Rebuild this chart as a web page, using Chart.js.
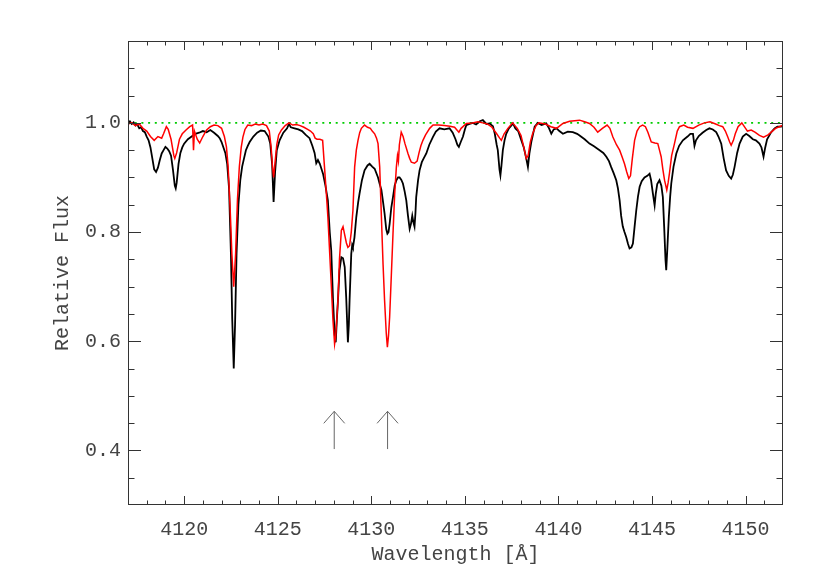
<!DOCTYPE html>
<html>
<head>
<meta charset="utf-8">
<script src="https://cdn.jsdelivr.net/npm/chart.js@4"></script>
<style>
  html, body { margin: 0; padding: 0; background: #fff; }
  #wrap { width: 822px; height: 587px; }
</style>
</head>
<body>
<div id="wrap"><canvas id="grafico"></canvas></div>
<script>
// observed spectrum (black)
const blackWave = [
  4117.0, 4117.1, 4117.2, 4117.3, 4117.4, 4117.5, 4117.6, 4117.7, 4117.8, 4117.9,
  4118.0, 4118.1, 4118.2, 4118.3, 4118.4, 4118.5, 4118.6, 4118.7, 4118.8, 4118.9,
  4119.0, 4119.1, 4119.2, 4119.3, 4119.4, 4119.5, 4119.55, 4119.6, 4119.7, 4119.8,
  4119.9, 4120.0, 4120.2, 4120.4, 4120.6, 4120.8, 4121.0, 4121.2, 4121.4, 4121.6,
  4121.8, 4121.9, 4122.0, 4122.1, 4122.2, 4122.3, 4122.4, 4122.5, 4122.57, 4122.65,
  4122.72, 4122.8, 4122.9, 4123.0, 4123.1, 4123.2, 4123.3, 4123.4, 4123.5, 4123.7,
  4123.9, 4124.1, 4124.3, 4124.5, 4124.6, 4124.7, 4124.78, 4124.86, 4124.95, 4125.1,
  4125.3, 4125.5, 4125.6, 4125.7, 4125.9, 4126.1, 4126.3, 4126.5, 4126.7, 4126.85,
  4126.97, 4127.06, 4127.15, 4127.25, 4127.42, 4127.55, 4127.68, 4127.78, 4127.86, 4127.95,
  4128.04, 4128.1, 4128.16, 4128.22, 4128.3, 4128.4, 4128.49, 4128.58, 4128.66, 4128.75,
  4128.8, 4128.84, 4128.93, 4128.98, 4129.02, 4129.1, 4129.2, 4129.3, 4129.37, 4129.5,
  4129.64, 4129.8, 4129.91, 4130.05, 4130.18, 4130.36, 4130.45, 4130.54, 4130.63, 4130.71,
  4130.8, 4130.86, 4130.92, 4130.98, 4131.07, 4131.16, 4131.25, 4131.34, 4131.43, 4131.51,
  4131.6, 4131.69, 4131.78, 4131.87, 4131.96, 4132.05, 4132.12, 4132.19, 4132.25, 4132.31,
  4132.36, 4132.4, 4132.5, 4132.58, 4132.7, 4132.8, 4132.94, 4133.1, 4133.29, 4133.45,
  4133.65, 4133.9, 4134.18, 4134.35, 4134.5, 4134.6, 4134.68, 4134.78, 4134.9, 4135.0,
  4135.08, 4135.25, 4135.43, 4135.6, 4135.8, 4135.96, 4136.15, 4136.32, 4136.5, 4136.6,
  4136.7, 4136.76, 4136.85, 4136.9, 4136.95, 4137.03, 4137.12, 4137.21, 4137.35, 4137.5,
  4137.57, 4137.7, 4137.85, 4138.02, 4138.15, 4138.28, 4138.37, 4138.45, 4138.55, 4138.73,
  4138.9, 4139.1, 4139.35, 4139.5, 4139.62, 4139.75, 4139.9, 4140.05, 4140.24, 4140.5,
  4140.77, 4141.0, 4141.13, 4141.4, 4141.66, 4141.9, 4142.2, 4142.4, 4142.56, 4142.7,
  4142.82, 4142.95, 4143.09, 4143.18, 4143.27, 4143.35, 4143.44, 4143.53, 4143.62, 4143.72,
  4143.8, 4143.9, 4143.98, 4144.07, 4144.16, 4144.25, 4144.34, 4144.45, 4144.6, 4144.75,
  4144.87, 4144.95, 4145.05, 4145.14, 4145.2, 4145.28, 4145.4, 4145.5, 4145.58, 4145.65,
  4145.72, 4145.76, 4145.82, 4145.9, 4145.97, 4146.03, 4146.15, 4146.3, 4146.45, 4146.65,
  4146.9, 4147.05, 4147.19, 4147.27, 4147.35, 4147.5, 4147.7, 4147.9, 4148.07, 4148.25,
  4148.43, 4148.55, 4148.7, 4148.83, 4148.96, 4149.1, 4149.23, 4149.32, 4149.41, 4149.55,
  4149.68, 4149.85, 4150.03, 4150.2, 4150.39, 4150.55, 4150.74, 4150.85, 4150.96, 4151.05,
  4151.15, 4151.37, 4151.55, 4151.7, 4151.9, 4152.0
];
const blackFlux = [
  1.000, 1.003, 0.998, 1.001, 0.995, 0.997, 0.990, 0.992, 0.985, 0.983,
  0.975, 0.968, 0.955, 0.935, 0.915, 0.910, 0.918, 0.932, 0.944, 0.950,
  0.956, 0.953, 0.948, 0.940, 0.915, 0.885, 0.880, 0.890, 0.925, 0.945,
  0.955, 0.962, 0.970, 0.975, 0.980, 0.982, 0.985, 0.983, 0.987, 0.982,
  0.976, 0.972, 0.965, 0.955, 0.945, 0.925, 0.880, 0.760, 0.640, 0.550,
  0.630, 0.760, 0.850, 0.895, 0.920, 0.935, 0.950, 0.958, 0.965, 0.975,
  0.982, 0.986, 0.985, 0.975, 0.962, 0.925, 0.855, 0.910, 0.950, 0.968,
  0.982, 0.990, 0.998, 0.992, 0.990, 0.988, 0.985, 0.978, 0.972, 0.958,
  0.945, 0.926, 0.932, 0.925, 0.907, 0.885, 0.858, 0.800, 0.766, 0.680,
  0.613, 0.598, 0.640, 0.675, 0.730, 0.754, 0.752, 0.736, 0.680, 0.598,
  0.630, 0.675, 0.760, 0.776, 0.772, 0.790, 0.828, 0.855, 0.870, 0.895,
  0.913, 0.922, 0.925, 0.920, 0.916, 0.900, 0.888, 0.877, 0.855, 0.834,
  0.805, 0.797, 0.800, 0.815, 0.845, 0.864, 0.885, 0.895, 0.900, 0.900,
  0.896, 0.889, 0.875, 0.858, 0.830, 0.806, 0.815, 0.830, 0.818, 0.810,
  0.835, 0.864, 0.895, 0.913, 0.928, 0.935, 0.944, 0.960, 0.974, 0.984,
  0.990, 0.988, 0.990, 0.982, 0.970, 0.960, 0.956, 0.965, 0.975, 0.988,
  0.996, 0.998, 1.000, 0.997, 1.003, 1.005, 0.998, 0.999, 0.994, 0.980,
  0.960, 0.950, 0.915, 0.904, 0.920, 0.950, 0.968, 0.980, 0.990, 0.996,
  0.999, 0.990, 0.985, 0.968, 0.955, 0.935, 0.919, 0.944, 0.965, 0.993,
  1.000, 0.996, 0.999, 0.990, 0.980, 0.988, 0.990, 0.985, 0.980, 0.984,
  0.983, 0.980, 0.977, 0.970, 0.962, 0.957, 0.950, 0.945, 0.938, 0.930,
  0.919, 0.908, 0.895, 0.880, 0.858, 0.830, 0.810, 0.800, 0.791, 0.778,
  0.770, 0.772, 0.779, 0.810, 0.840, 0.865, 0.883, 0.893, 0.900, 0.903,
  0.907, 0.895, 0.870, 0.849, 0.870, 0.888, 0.895, 0.885, 0.864, 0.810,
  0.750, 0.730, 0.770, 0.828, 0.865, 0.889, 0.920, 0.944, 0.958, 0.968,
  0.975, 0.980, 0.980, 0.958, 0.968, 0.976, 0.982, 0.987, 0.990, 0.988,
  0.983, 0.975, 0.962, 0.935, 0.913, 0.903, 0.898, 0.905, 0.919, 0.945,
  0.962, 0.975, 0.980, 0.976, 0.970, 0.968, 0.962, 0.955, 0.938, 0.955,
  0.970, 0.983, 0.990, 0.993, 0.993, 0.995
];

// model spectrum (red)
const redWave = [
  4117.0, 4117.2, 4117.4, 4117.6, 4117.8, 4118.0, 4118.2, 4118.4, 4118.6, 4118.8,
  4118.9, 4119.05, 4119.15, 4119.3, 4119.45, 4119.5, 4119.6, 4119.75, 4119.9, 4120.1,
  4120.3, 4120.45, 4120.5, 4120.55, 4120.7, 4120.83, 4121.0, 4121.2, 4121.4, 4121.6,
  4121.8, 4122.0, 4122.15, 4122.26, 4122.35, 4122.45, 4122.55, 4122.65, 4122.75, 4122.85,
  4122.95, 4123.05, 4123.14, 4123.25, 4123.4, 4123.6, 4123.8, 4124.0, 4124.2, 4124.4,
  4124.55, 4124.65, 4124.72, 4124.78, 4124.85, 4124.95, 4125.05, 4125.2, 4125.4, 4125.6,
  4125.8, 4126.0, 4126.2, 4126.4, 4126.6, 4126.75, 4126.9, 4127.0, 4127.1, 4127.25,
  4127.4, 4127.5, 4127.6, 4127.68, 4127.78, 4127.86, 4127.95, 4128.04, 4128.1, 4128.22,
  4128.3, 4128.4, 4128.49, 4128.58, 4128.67, 4128.75, 4128.84, 4128.93, 4129.02, 4129.11,
  4129.2, 4129.29, 4129.38, 4129.47, 4129.64, 4129.8, 4129.95, 4130.05, 4130.18, 4130.28,
  4130.36, 4130.45, 4130.54, 4130.63, 4130.71, 4130.8, 4130.86, 4130.92, 4130.98, 4131.07,
  4131.16, 4131.25, 4131.34, 4131.4, 4131.45, 4131.5, 4131.6, 4131.7, 4131.8, 4131.96,
  4132.05, 4132.14, 4132.31, 4132.45, 4132.55, 4132.65, 4132.76, 4132.9, 4133.12, 4133.3,
  4133.6, 4133.9, 4134.2, 4134.45, 4134.6, 4134.68, 4134.8, 4135.08, 4135.4, 4135.7,
  4135.96, 4136.2, 4136.45, 4136.7, 4136.86, 4136.95, 4137.1, 4137.3, 4137.55, 4137.8,
  4138.0, 4138.15, 4138.28, 4138.38, 4138.5, 4138.62, 4138.8, 4138.95, 4139.3, 4139.6,
  4139.9, 4140.24, 4140.6, 4141.13, 4141.4, 4141.66, 4141.9, 4142.1, 4142.35, 4142.6,
  4142.75, 4142.91, 4143.1, 4143.27, 4143.4, 4143.53, 4143.65, 4143.76, 4143.85, 4143.95,
  4144.07, 4144.2, 4144.34, 4144.5, 4144.65, 4144.78, 4144.96, 4145.15, 4145.31, 4145.4,
  4145.49, 4145.58, 4145.67, 4145.79, 4145.86, 4145.93, 4146.05, 4146.2, 4146.35, 4146.47,
  4146.7, 4146.9, 4147.19, 4147.5, 4147.8, 4148.1, 4148.4, 4148.6, 4148.78, 4148.92,
  4149.05, 4149.15, 4149.23, 4149.35, 4149.45, 4149.6, 4149.8, 4150.0, 4150.1, 4150.3,
  4150.5, 4150.74, 4150.96, 4151.2, 4151.37, 4151.6, 4151.8, 4152.0
];
const redFlux = [
  0.998, 1.000, 0.995, 0.998, 0.990, 0.985, 0.975, 0.968, 0.975, 0.972,
  0.980, 0.993, 0.988, 0.970, 0.940, 0.935, 0.945, 0.970, 0.980, 0.987,
  0.993, 0.996, 0.950, 0.985, 0.970, 0.963, 0.975, 0.987, 0.993, 0.996,
  0.995, 0.990, 0.975, 0.956, 0.920, 0.850, 0.760, 0.700, 0.760, 0.860,
  0.920, 0.955, 0.974, 0.988, 0.996, 0.995, 0.998, 0.996, 0.998, 0.995,
  0.985, 0.955, 0.920, 0.900, 0.925, 0.960, 0.978, 0.987, 0.995, 1.000,
  0.996, 0.997, 0.995, 0.992, 0.988, 0.985, 0.980, 0.972, 0.970, 0.970,
  0.968, 0.919, 0.870, 0.828, 0.760, 0.705, 0.640, 0.595, 0.610, 0.675,
  0.750, 0.803, 0.810, 0.795, 0.780, 0.772, 0.775, 0.800, 0.840, 0.919,
  0.950, 0.968, 0.982, 0.990, 0.996, 0.992, 0.990, 0.985, 0.980, 0.972,
  0.962, 0.919, 0.828, 0.740, 0.675, 0.615, 0.589, 0.610, 0.644, 0.720,
  0.797, 0.870, 0.919, 0.940, 0.930, 0.960, 0.983, 0.975, 0.962, 0.944,
  0.935, 0.928, 0.926, 0.930, 0.945, 0.958, 0.968, 0.978, 0.990, 0.996,
  0.996, 0.995, 0.994, 0.992, 0.986, 0.983, 0.990, 0.999, 1.000, 1.002,
  1.000, 0.998, 0.992, 0.980, 0.972, 0.968, 0.980, 0.990, 1.000, 0.990,
  0.977, 0.955, 0.935, 0.940, 0.965, 0.980, 0.995, 1.000, 0.998, 0.993,
  0.990, 0.999, 1.003, 1.005, 1.002, 0.999, 0.992, 0.983, 0.990, 0.996,
  0.990, 0.974, 0.960, 0.950, 0.938, 0.925, 0.910, 0.898, 0.903, 0.935,
  0.968, 0.985, 0.993, 0.996, 0.993, 0.983, 0.965, 0.963, 0.962, 0.950,
  0.938, 0.915, 0.895, 0.877, 0.890, 0.907, 0.940, 0.962, 0.985, 0.993,
  0.996, 0.992, 0.990, 0.996, 1.000, 1.002, 0.998, 0.995, 0.993, 0.985,
  0.974, 0.965, 0.959, 0.968, 0.980, 0.993, 1.000, 0.990, 0.985, 0.987,
  0.983, 0.977, 0.974, 0.978, 0.983, 0.990, 0.993, 0.996
];

// continuum level and marked lines
const continuumWave = [4117, 4152];
const continuumFlux = [1.0, 1.0];
const arrowWave = [4128.02, 4130.87];
const arrowBase = 0.4025;
const arrowTip = 0.4716;

const xTickLabels = [4120, 4125, 4130, 4135, 4140, 4145, 4150];
const yTickLabels = [0.4, 0.6, 0.8, 1.0];

const zip = (xs, ys) => xs.map((x, i) => ({x: x, y: ys[i]}));

const fonte = { family: 'Liberation Mono', size: 20 };
const corTexto = '#444';

const datasets = [
  { data: zip(redWave, redFlux), borderColor: '#ff0000', borderWidth: 1.5 },
  { data: zip(blackWave, blackFlux), borderColor: '#000000', borderWidth: 1.8 },
  { data: zip(continuumWave, continuumFlux), borderColor: '#00cc00', borderWidth: 1.6, borderDash: [2, 4.7] }
];
// setas: haste e ponta
arrowWave.forEach(w => {
  datasets.push({ data: [{x: w, y: arrowBase}, {x: w, y: arrowTip}], borderColor: '#666', borderWidth: 1 });
  datasets.push({ data: [{x: w - 0.56, y: arrowTip - 0.022}, {x: w, y: arrowTip}, {x: w + 0.56, y: arrowTip - 0.022}], borderColor: '#666', borderWidth: 1 });
});

// moldura e ticks para dentro, estilo IDL
const molduraTicks = {
  id: 'molduraTicks',
  afterDatasetsDraw(chart) {
    const {ctx, chartArea: a, scales: {x, y}} = chart;
    ctx.save();
    ctx.strokeStyle = '#333';
    ctx.lineWidth = 1;
    ctx.strokeRect(a.left + 0.5, a.top + 0.5, a.right - a.left - 1, a.bottom - a.top - 1);
    ctx.beginPath();
    for (let v = 4118; v <= 4151; v++) {
      const px = Math.round(x.getPixelForValue(v)) + 0.5;
      const len = v % 5 === 0 ? 9 : 4.5;
      ctx.moveTo(px, a.bottom); ctx.lineTo(px, a.bottom - len);
      ctx.moveTo(px, a.top); ctx.lineTo(px, a.top + len);
    }
    for (let i = 7; i <= 22; i++) {
      const py = Math.round(y.getPixelForValue(i * 0.05)) + 0.5;
      const len = i % 4 === 0 ? 13 : 6.5;
      ctx.moveTo(a.left, py); ctx.lineTo(a.left + len, py);
      ctx.moveTo(a.right, py); ctx.lineTo(a.right - len, py);
    }
    ctx.stroke();
    ctx.restore();
  }
};

new Chart(document.getElementById('grafico'), {
  type: 'line',
  data: { datasets: datasets },
  options: {
    responsive: true,
    maintainAspectRatio: false,
    animation: false,
    layout: { padding: { top: 41, right: 39, bottom: 0, left: 0 } },
    elements: { point: { radius: 0 }, line: { tension: 0 } },
    plugins: { legend: { display: false }, tooltip: { enabled: false } },
    scales: {
      x: {
        type: 'linear', min: 4117, max: 4152,
        grid: { display: false, drawTicks: false },
        border: { display: false },
        afterBuildTicks: s => { s.ticks = xTickLabels.map(v => ({ value: v })); },
        afterFit: s => { s.height = 82; },
        ticks: { font: fonte, color: corTexto, padding: 13, maxRotation: 0, autoSkip: false, callback: v => String(v) },
        title: { display: true, text: 'Wavelength [Å]', font: fonte, color: corTexto, padding: { top: 0, bottom: 20 } }
      },
      y: {
        type: 'linear', min: 0.3, max: 1.15,
        grid: { display: false, drawTicks: false },
        border: { display: false },
        afterBuildTicks: s => { s.ticks = yTickLabels.map(v => ({ value: v })); },
        afterFit: s => { s.width = 128; },
        ticks: { font: fonte, color: corTexto, padding: 7, autoSkip: false, callback: v => v.toFixed(1) },
        title: { display: true, text: 'Relative Flux', font: fonte, color: corTexto, padding: { top: 51, bottom: 0 } }
      }
    }
  },
  plugins: [molduraTicks]
});
</script>
</body>
</html>
